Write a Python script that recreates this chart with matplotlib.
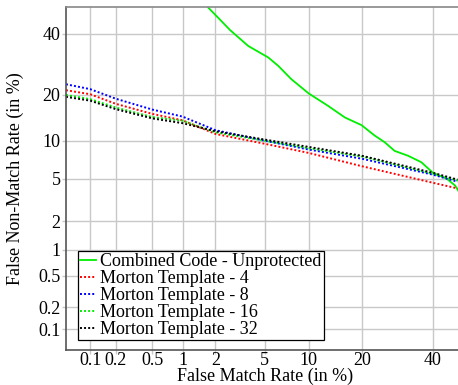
import math
import numpy as np
import matplotlib
matplotlib.use("Agg")
import matplotlib.pyplot as plt

# false match rate (%) sample points for the Morton template curves
fmr = [0.05, 0.1, 0.2, 0.5, 1, 2, 5, 10, 20, 40, 48]
fnmr_m4 = [21.3, 20.2, 17.7, 15.3, 13.9, 11.2, 9.5, 8.1, 6.35, 4.6, 4.1]
fnmr_m8 = [23.0, 21.6, 19.0, 16.3, 14.7, 11.9, 10.0, 8.6, 7.3, 5.4, 4.7]
fnmr_m16 = [20.0, 18.9, 16.8, 14.6, 13.8, 11.5, 10.0, 8.8, 7.6, 5.5, 4.8]
fnmr_m32 = [19.5, 18.5, 16.4, 14.3, 13.3, 11.7, 10.2, 9.0, 7.7, 5.6, 4.9]

# unprotected combined code
fmr_cc = [1.72, 2.67, 3.74, 5.3, 6.25, 7.7, 10, 13.1, 16.3, 19.9, 23.1, 25.7,
          28.4, 32.3, 36.3, 40, 44.4, 47.2, 48.2]
fnmr_cc = [50, 41.3, 35.5, 31.5, 28.7, 24.5, 20.4, 17.2, 14.5, 12.9, 10.9, 9.75,
           8.4, 7.7, 6.85, 5.6, 5.0, 4.35, 3.93]

ticks = [0.1, 0.2, 0.5, 1, 2, 5, 10, 20, 40]
tick_labels = ["0.1", "0.2", "0.5", "1", "2", "5", "10", "20", "40"]


def probit(p):
    # Acklam's inverse normal cdf, p given in percent
    q = np.clip(np.asarray(p, dtype=float) / 100.0, 1e-9, 1 - 1e-9)
    a = [-3.969683028665376e+01, 2.209460984245205e+02, -2.759285104469687e+02,
         1.383577518672690e+02, -3.066479806614716e+01, 2.506628277459239e+00]
    b = [-5.447609879822406e+01, 1.615858368580409e+02, -1.556989798598866e+02,
         6.680131188771972e+01, -1.328068155288572e+01]
    c = [-7.784894002430293e-03, -3.223964580411365e-01, -2.400758277161838e+00,
         -2.549732539343734e+00, 4.374664141464968e+00, 2.938163982698783e+00]
    d = [7.784695709041462e-03, 3.224671290700398e-01, 2.445134137142996e+00,
         3.754408661907416e+00]
    lo = 0.02425
    out = np.empty_like(q)
    m = q < lo
    r = np.sqrt(-2 * np.log(q[m]))
    out[m] = (((((c[0]*r+c[1])*r+c[2])*r+c[3])*r+c[4])*r+c[5]) / ((((d[0]*r+d[1])*r+d[2])*r+d[3])*r+1)
    m = q > 1 - lo
    r = np.sqrt(-2 * np.log(1 - q[m]))
    out[m] = -(((((c[0]*r+c[1])*r+c[2])*r+c[3])*r+c[4])*r+c[5]) / ((((d[0]*r+d[1])*r+d[2])*r+d[3])*r+1)
    m = (q >= lo) & (q <= 1 - lo)
    s = q[m] - 0.5
    r = s * s
    out[m] = (((((a[0]*r+a[1])*r+a[2])*r+a[3])*r+a[4])*r+a[5])*s / (((((b[0]*r+b[1])*r+b[2])*r+b[3])*r+b[4])*r+1)
    return out


_erf = np.vectorize(math.erf)


def inv_probit(z):
    z = np.asarray(z, dtype=float)
    return 50.0 * (1 + _erf(z / math.sqrt(2)))


plt.rcParams["font.family"] = ["Liberation Serif", "DejaVu Serif"]
plt.rcParams["font.size"] = 13

fig = plt.figure(figsize=(4.58, 3.85), dpi=100)
ax = fig.add_axes([66 / 458, 35 / 385, 397.6 / 458, 342.7 / 385])
ax.set_xscale("function", functions=(probit, inv_probit))
ax.set_yscale("function", functions=(probit, inv_probit))

ax.plot(fmr_cc, fnmr_cc, color="#00ee00", lw=1.3, label="Combined Code - Unprotected")
dot = (0, (1, 1.1))
ax.plot(fmr, fnmr_m4, color="#ff0000", lw=1.4, ls=dot, label="Morton Template - 4")
ax.plot(fmr, fnmr_m8, color="#0000ff", lw=1.4, ls=dot, label="Morton Template - 8")
ax.plot(fmr, fnmr_m16, color="#00ee00", lw=1.4, ls=dot, label="Morton Template - 16")
ax.plot(fmr, fnmr_m32, color="black", lw=1.4, ls=dot, label="Morton Template - 32")

ax.set_xlim(0.05, 50)
ax.set_ylim(0.05, 50)
ax.set_xticks(ticks)
ax.set_xticklabels(tick_labels)
ax.set_yticks(ticks)
ax.set_yticklabels(tick_labels)
ax.minorticks_off()
ax.tick_params(length=3, width=1, color="#c8c8c8", pad=1)
ax.tick_params(axis="x", pad=-1.5)
ax.grid(True, color="#c8c8c8", lw=1)

for s in ["left", "bottom"]:
    ax.spines[s].set_color("#555555")
    ax.spines[s].set_linewidth(1.2)
ax.spines["top"].set_color("#888888")
ax.spines["top"].set_linewidth(1.2)
ax.spines["right"].set_visible(False)

ax.set_xlabel("False Match Rate (in %)", labelpad=-1)
ax.set_ylabel("False Non-Match Rate (in %)", labelpad=10)

leg = ax.legend(loc="lower left", bbox_to_anchor=(0.03, 0.03), fancybox=False,
                framealpha=1, edgecolor="black", handlelength=0.9,
                handletextpad=0.25, labelspacing=0.0, borderpad=0.1,
                borderaxespad=0)
leg.get_frame().set_linewidth(0.9)

fig.savefig("out.png", dpi=100)
